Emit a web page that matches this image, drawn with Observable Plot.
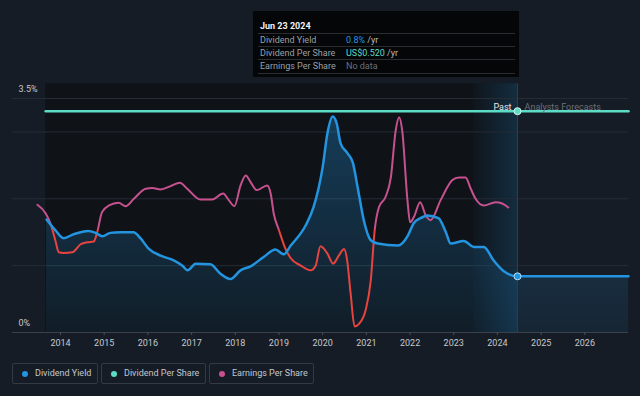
<!DOCTYPE html>
<html><head><meta charset="utf-8">
<script src="https://cdn.jsdelivr.net/npm/d3@7"></script>
<script src="https://cdn.jsdelivr.net/npm/@observablehq/plot@0.6"></script>
<style>
html,body{margin:0;padding:0;background:#161c25;}
body{width:640px;height:396px;overflow:hidden;font-family:Roboto,"Noto Sans",sans-serif;}
#wrap{position:relative;width:640px;height:396px;}
#chart svg{display:block;}
.tip{position:absolute;left:253px;top:11px;width:266px;height:66px;background:#050608;box-sizing:border-box;}
.tip .title{position:absolute;left:7px;top:8.5px;font-size:9px;font-weight:bold;color:#f2f2f2;line-height:12px;}
.tip .row{position:absolute;left:5px;width:257px;height:13px;border-top:1px solid #2a2c30;font-size:9px;line-height:13px;color:#9aa0a7;}
.tip .row .lab{position:absolute;left:2px;top:0;}
.tip .row .val{position:absolute;left:88px;top:0;color:#b8bcc2;}
.legend{position:absolute;top:363px;height:21px;box-sizing:border-box;border:1px solid #343a44;border-radius:2px;font-size:9px;color:#c3c7cd;line-height:19px;}
.legend .dot{position:absolute;left:9px;top:6.5px;width:6px;height:6px;border-radius:50%;}
.legend .txt{position:absolute;left:22px;top:0;white-space:nowrap;}
</style>
</head><body>
<div id="wrap">
  <div id="chart"></div>
  <div class="tip">
    <div class="title" id="tipTitle"></div>
    <div id="tipRows"></div>
  </div>
  <div id="legend"></div>
</div>
<script>
// ---- data (decimal years, values in % on the chart's yield axis) ----
const yieldT = [2013.68, 2013.88, 2014.07, 2014.30, 2014.64, 2014.80, 2014.96, 2015.14, 2015.37, 2015.67, 2015.83, 2016.01, 2016.29, 2016.59, 2016.79, 2016.91, 2017.09, 2017.43, 2017.66, 2017.89, 2018.12, 2018.35, 2018.65, 2018.92, 2019.11, 2019.27, 2019.61, 2019.79, 2020.00, 2020.11, 2020.23, 2020.32, 2020.41, 2020.57, 2020.69, 2020.80, 2020.94, 2021.10, 2021.26, 2021.72, 2021.95, 2022.08, 2022.24, 2022.40, 2022.65, 2022.82, 2022.93, 2023.23, 2023.46, 2023.69, 2023.91, 2024.14, 2024.46, 2027.0];
const yieldV = [1.69, 1.53, 1.41, 1.47, 1.52, 1.49, 1.44, 1.49, 1.50, 1.50, 1.41, 1.26, 1.15, 1.08, 1.00, 0.93, 1.03, 1.02, 0.88, 0.80, 0.93, 0.99, 1.13, 1.24, 1.17, 1.30, 1.60, 1.87, 2.47, 2.98, 3.23, 3.13, 2.83, 2.68, 2.54, 2.17, 1.68, 1.38, 1.33, 1.30, 1.45, 1.63, 1.71, 1.75, 1.71, 1.50, 1.33, 1.37, 1.28, 1.28, 1.08, 0.92, 0.84, 0.84];

const epsT = [2013.47, 2013.66, 2013.77, 2013.88, 2013.96, 2014.07, 2014.27, 2014.46, 2014.61, 2014.76, 2014.84, 2014.95, 2015.11, 2015.33, 2015.49, 2015.68, 2015.95, 2016.10, 2016.29, 2016.52, 2016.73, 2016.90, 2017.20, 2017.47, 2017.72, 2017.85, 2017.98, 2018.12, 2018.24, 2018.35, 2018.49, 2018.73, 2018.81, 2018.88, 2019.00, 2019.15, 2019.27, 2019.50, 2019.72, 2019.84, 2019.95, 2020.11, 2020.24, 2020.37, 2020.49, 2020.56, 2020.64, 2020.73, 2020.83, 2020.98, 2021.10, 2021.19, 2021.29, 2021.44, 2021.56, 2021.67, 2021.75, 2021.82, 2021.94, 2022.00, 2022.09, 2022.23, 2022.36, 2022.47, 2022.70, 2022.97, 2023.12, 2023.27, 2023.39, 2023.50, 2023.69, 2023.96, 2024.11, 2024.25];
const epsV = [1.91, 1.78, 1.63, 1.38, 1.20, 1.19, 1.20, 1.32, 1.35, 1.36, 1.50, 1.80, 1.90, 1.94, 1.89, 2.00, 2.15, 2.16, 2.14, 2.19, 2.24, 2.15, 1.99, 1.99, 2.08, 1.98, 1.89, 2.20, 2.35, 2.25, 2.13, 2.20, 2.08, 1.78, 1.53, 1.25, 1.11, 1.00, 0.93, 1.00, 1.29, 1.18, 1.03, 1.15, 1.25, 1.08, 0.58, 0.09, 0.13, 0.33, 0.78, 1.53, 1.88, 2.03, 2.32, 3.02, 3.22, 3.02, 1.98, 1.65, 1.73, 1.95, 1.75, 1.68, 1.98, 2.28, 2.32, 2.32, 2.15, 2.00, 1.90, 1.95, 1.93, 1.87];
const epsThreshold = 1.55;

const dpsT = [2013.66, 2027.0];
const dpsV = [3.31, 3.31];

const pastStart = 2013.66;
const lastYearStart = 2023.46;
const today = 2024.46;
const todayDps = 3.31;
const todayYield = 0.84;

const xTickYears = [2014, 2015, 2016, 2017, 2018, 2019, 2020, 2021, 2022, 2023, 2024, 2025, 2026];
const yTickValues = [0, 3.5];
const yTickLabels = ["0%", "3.5%"];
const yGrid = [1, 2, 3, 3.5];
const xDomainYears = [2012.9, 2027.0];

const seriesNames = ["Dividend Yield", "Dividend Per Share", "Earnings Per Share"];
const seriesColors = ["#2394df", "#5cdcc4", "#c7508f"];
const epsLowColor = "#e8433f";

const tipDate = "Jun 23 2024";
const tipValues = [["0.8%", " /yr"], ["US$0.520", " /yr"], ["No data", ""]];

// ---- helpers ----
const toDate = y => { const yr = Math.floor(y); const s = Date.UTC(yr, 0, 1), e = Date.UTC(yr + 1, 0, 1); return new Date(s + (y - yr) * (e - s)); };
const yieldData = yieldT.map((t, i) => ({date: toDate(t), v: yieldV[i]}));
const epsData = epsT.map((t, i) => ({date: toDate(t), v: epsV[i]}));
const dpsData = dpsT.map((t, i) => ({date: toDate(t), v: dpsV[i]}));
const yearDates = xTickYears.map(toDate);

const defsMark = (index, scales, values, dims) => {
  const ns = "http://www.w3.org/2000/svg";
  const g = document.createElementNS(ns, "g");
  const H = dims.height;
  const yT = scales.y(epsThreshold);
  const yTop = scales.y(3.5), yBot = scales.y(0);
  const off = (yT / H).toFixed(4);
  g.innerHTML = `<defs>
    <linearGradient id="epsGrad" gradientUnits="userSpaceOnUse" x1="0" y1="0" x2="0" y2="${H}">
      <stop offset="0" stop-color="${seriesColors[2]}"/><stop offset="${off}" stop-color="${seriesColors[2]}"/>
      <stop offset="${off}" stop-color="${epsLowColor}"/><stop offset="1" stop-color="${epsLowColor}"/>
    </linearGradient>
    <linearGradient id="areaGrad" gradientUnits="userSpaceOnUse" x1="0" y1="${yTop}" x2="0" y2="${yBot}">
      <stop offset="0" stop-color="#2394df" stop-opacity="0.34"/><stop offset="1" stop-color="#2394df" stop-opacity="0.08"/>
    </linearGradient>
    <linearGradient id="hlGrad" x1="0" y1="0" x2="1" y2="0">
      <stop offset="0" stop-color="#2394df" stop-opacity="0.02"/><stop offset="1" stop-color="#2394df" stop-opacity="0.2"/>
    </linearGradient>
  </defs>`;
  return g;
};

const chart = Plot.plot({
  width: 640, height: 356,
  marginTop: 98, marginBottom: 24, marginLeft: 12, marginRight: 12,
  style: {background: "transparent", fontFamily: "Roboto, 'Noto Sans', sans-serif", fontSize: "9px", color: "#c5c9cf", overflow: "visible"},
  x: {type: "utc", domain: xDomainYears.map(toDate), axis: null},
  y: {domain: [0, 3.5], axis: null},
  marks: [
    defsMark,
    Plot.rect([0], {x1: () => toDate(pastStart), x2: () => toDate(today), y1: 0, y2: 3.72, fill: "#0f1318"}),
    Plot.rect([0], {x1: () => toDate(lastYearStart), x2: () => toDate(today), y1: 0, y2: 3.72, fill: "url(#hlGrad)"}),
    Plot.ruleY(yGrid, {stroke: "#262c35", strokeWidth: 1}),
    Plot.areaY(yieldData, {x: "date", y: "v", curve: "monotone-x", fill: "url(#areaGrad)"}),
    Plot.ruleX([0], {x: () => toDate(today), y1: 0, y2: 3.72, stroke: "#2c3e50", strokeWidth: 1}),
    Plot.ruleY([0], {stroke: "#3b414b", strokeWidth: 1}),
    Plot.ruleX(yearDates, {y1: 0, y2: -0.045, stroke: "#4a505a"}),
    Plot.text(yearDates, {x: d => d, y: 0, dy: 11, text: d => String(d.getUTCFullYear()), fill: "#c5c9cf", fontSize: 9}),
    Plot.text(yTickValues, {x: () => toDate(xDomainYears[0]), y: d => d, text: (d, i) => yTickLabels[i], textAnchor: "start", dx: 6, dy: -9, fill: "#c5c9cf", fontSize: 9}),
    Plot.line(dpsData, {x: "date", y: "v", stroke: seriesColors[1], strokeWidth: 2.5}),
    Plot.line(epsData, {x: "date", y: "v", curve: "monotone-x", stroke: "url(#epsGrad)", strokeWidth: 2}),
    Plot.line(yieldData, {x: "date", y: "v", curve: "monotone-x", stroke: seriesColors[0], strokeWidth: 2.5}),
    Plot.text(["Past"], {x: () => toDate(today), y: () => todayDps, text: d => d, textAnchor: "end", dx: -6, dy: -4, fill: "#e6e8eb", fontSize: 9}),
    Plot.text(["Analysts Forecasts"], {x: () => toDate(today), y: () => todayDps, text: d => d, textAnchor: "start", dx: 7, dy: -4, fill: "#6b7079", fontSize: 9}),
    Plot.dot([0], {x: () => toDate(today), y: () => todayDps, r: 3.5, fill: seriesColors[1], stroke: "#d8f7ef", strokeWidth: 1}),
    Plot.dot([0], {x: () => toDate(today), y: () => todayYield, r: 3.5, fill: seriesColors[0], stroke: "#b5dcf7", strokeWidth: 1})
  ]
});
document.getElementById("chart").appendChild(chart);

// tooltip
document.getElementById("tipTitle").textContent = tipDate;
const rowsEl = document.getElementById("tipRows");
const rowTops = [21.5, 34.5, 47.5];
seriesNames.forEach((name, i) => {
  const r = document.createElement("div");
  r.className = "row";
  r.style.top = rowTops[i] + "px";
  if (i === seriesNames.length - 1) r.style.borderBottom = "1px solid #2a2c30";
  const lab = document.createElement("span"); lab.className = "lab"; lab.textContent = name;
  const val = document.createElement("span"); val.className = "val";
  const main = document.createElement("span"); main.textContent = tipValues[i][0];
  main.style.color = i === 2 ? "#6b7079" : seriesColors[i];
  const unit = document.createElement("span"); unit.textContent = tipValues[i][1];
  val.appendChild(main); val.appendChild(unit);
  r.appendChild(lab); r.appendChild(val);
  rowsEl.appendChild(r);
});

// legend
const legendLefts = [12, 101, 209];
const legendWidths = [86, 105, 105];
const legEl = document.getElementById("legend");
seriesNames.forEach((name, i) => {
  const b = document.createElement("div");
  b.className = "legend";
  b.style.left = legendLefts[i] + "px";
  b.style.width = legendWidths[i] + "px";
  const dot = document.createElement("div"); dot.className = "dot"; dot.style.background = seriesColors[i];
  const t = document.createElement("div"); t.className = "txt"; t.textContent = name;
  b.appendChild(dot); b.appendChild(t);
  legEl.appendChild(b);
});
</script>
</body></html>
